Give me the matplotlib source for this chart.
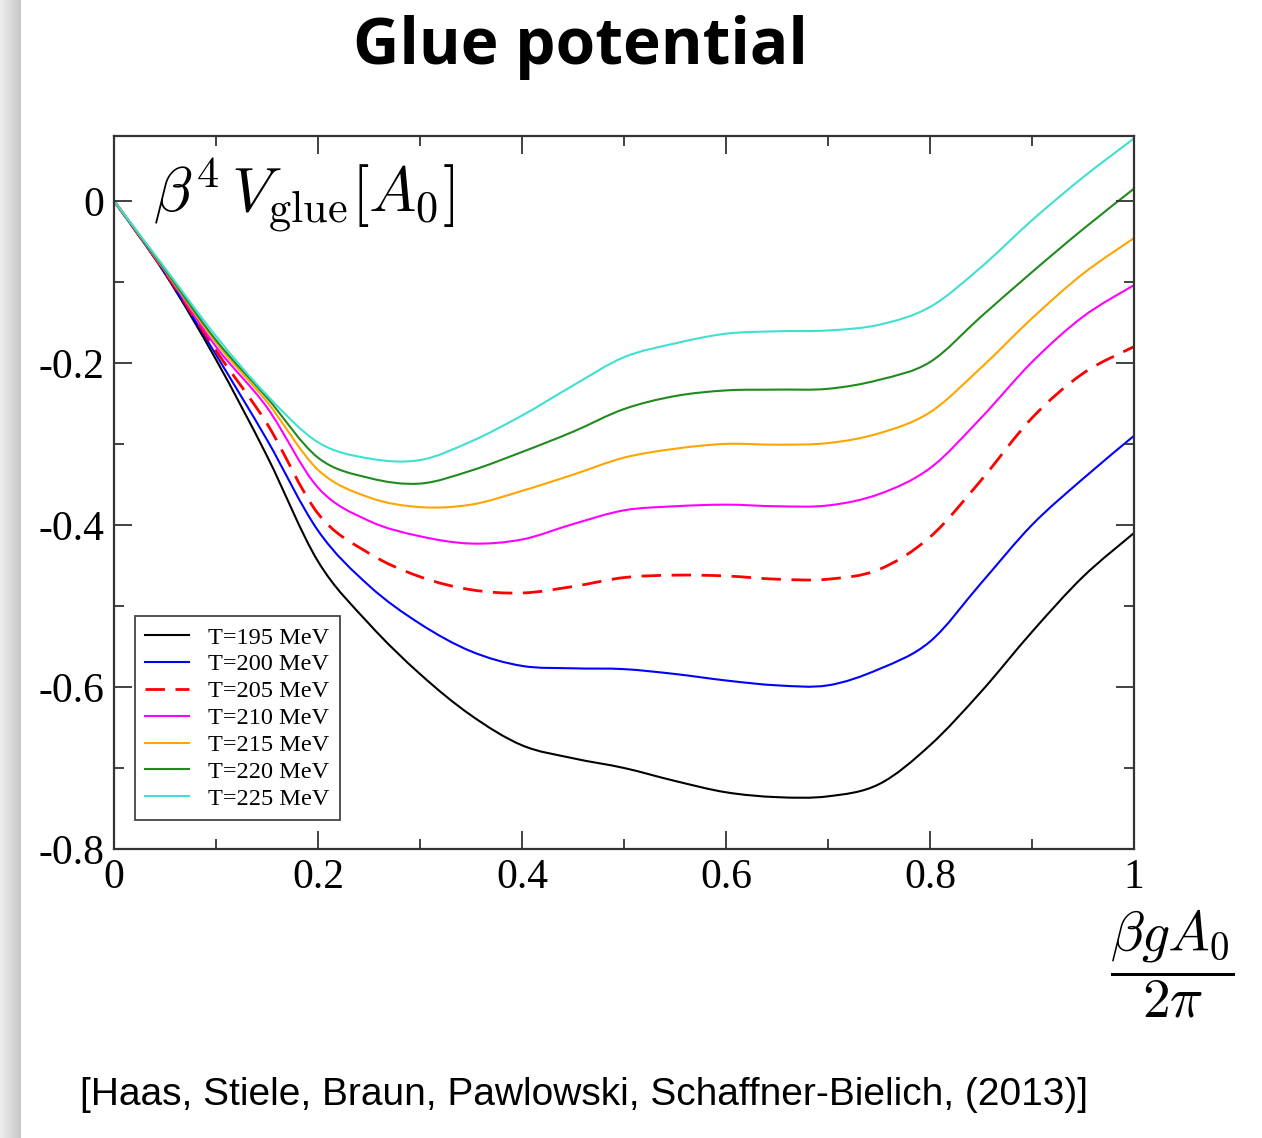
import numpy as np
import matplotlib
matplotlib.use('Agg')
import matplotlib.pyplot as plt
from matplotlib.path import Path
from matplotlib.patches import PathPatch
from matplotlib.lines import Line2D
from matplotlib.ticker import MultipleLocator, FixedLocator, FixedFormatter

plt.rcParams['mathtext.fontset'] = 'cm'

# beta*g*A0/(2 pi) grid and the glue potential beta^4 V_glue for each temperature
a0 = [0.00, 0.05, 0.10, 0.15, 0.20, 0.25, 0.30, 0.35, 0.40, 0.45, 0.50,
      0.55, 0.60, 0.65, 0.70, 0.75, 0.80, 0.85, 0.90, 0.95, 1.00]

v_195 = [0.0, -0.090, -0.196, -0.315, -0.445, -0.522, -0.584, -0.635, -0.672, -0.688, -0.700,
         -0.716, -0.730, -0.736, -0.735, -0.720, -0.672, -0.606, -0.532, -0.464, -0.410]
v_200 = [0.0, -0.089, -0.190, -0.295, -0.407, -0.475, -0.522, -0.556, -0.574, -0.577, -0.578,
         -0.584, -0.592, -0.598, -0.598, -0.578, -0.544, -0.472, -0.400, -0.343, -0.290]
v_205 = [0.0, -0.088, -0.185, -0.275, -0.386, -0.435, -0.464, -0.480, -0.484, -0.476, -0.465,
         -0.462, -0.463, -0.467, -0.467, -0.455, -0.415, -0.345, -0.268, -0.213, -0.180]
v_210 = [0.0, -0.087, -0.180, -0.255, -0.354, -0.395, -0.414, -0.423, -0.418, -0.399, -0.382,
         -0.377, -0.375, -0.377, -0.376, -0.362, -0.330, -0.268, -0.199, -0.143, -0.104]
v_215 = [0.0, -0.086, -0.175, -0.248, -0.332, -0.366, -0.378, -0.375, -0.358, -0.338, -0.317,
         -0.306, -0.300, -0.301, -0.299, -0.287, -0.261, -0.206, -0.145, -0.090, -0.046]
v_220 = [0.0, -0.085, -0.172, -0.243, -0.317, -0.342, -0.349, -0.333, -0.310, -0.285, -0.257,
         -0.241, -0.234, -0.233, -0.232, -0.221, -0.199, -0.143, -0.088, -0.035, 0.015]
v_225 = [0.0, -0.083, -0.167, -0.240, -0.298, -0.318, -0.320, -0.297, -0.265, -0.228, -0.193,
         -0.176, -0.164, -0.161, -0.160, -0.153, -0.131, -0.082, -0.024, 0.029, 0.077]

labels = ['T=195 MeV', 'T=200 MeV', 'T=205 MeV', 'T=210 MeV',
          'T=215 MeV', 'T=220 MeV', 'T=225 MeV']
series = [v_195, v_200, v_205, v_210, v_215, v_220, v_225]
colors = ['black', '#0000ff', '#ff0000', '#ff00ff', '#ffa500', '#1f8b1f', '#40e0d0']


def smooth_path(x, y):
    # cubic Bezier segments through every point (Catmull-Rom tangents)
    p = np.column_stack([x, y])
    n = len(p)
    verts = [p[0]]
    codes = [Path.MOVETO]
    for i in range(n - 1):
        p0 = p[i - 1] if i > 0 else p[i]
        p3 = p[i + 2] if i + 2 < n else p[i + 1]
        c1 = p[i] + (p[i + 1] - p0) / 6.0
        c2 = p[i + 1] - (p3 - p[i]) / 6.0
        verts += [c1, c2, p[i + 1]]
        codes += [Path.CURVE4] * 3
    return Path(verts, codes)


W, H = 1262, 1138
fig = plt.figure(figsize=(W / 100, H / 100), dpi=100)

# slide edge shadow on the left
sax = fig.add_axes([0, 0, 21 / W, 1])
grad = np.linspace(0.93, 0.78, 64)[None, :]
sax.imshow(grad, cmap='gray', vmin=0, vmax=1, aspect='auto', extent=(0, 1, 0, 1))
sax.axis('off')

ax = fig.add_axes([114 / W, 1 - 849 / H, 1020 / W, 713 / H])

handles = []
for vals, lab, col in zip(series, labels, colors):
    if lab == 'T=205 MeV':
        ls, lw = (0, (7, 3.8)), 2.0
    else:
        ls, lw = '-', 1.5
    ax.add_patch(PathPatch(smooth_path(a0, vals), fill=False, edgecolor=col,
                           lw=lw, linestyle=ls, capstyle='butt'))
    handles.append(Line2D([], [], color=col, lw=lw, linestyle=ls, label=lab))

ax.set_xlim(0, 1)
ax.set_ylim(-0.8, 0.08)

xt = [0, 0.2, 0.4, 0.6, 0.8, 1.0]
yt = [-0.8, -0.6, -0.4, -0.2, 0.0]
ax.xaxis.set_major_locator(FixedLocator(xt))
ax.xaxis.set_major_formatter(FixedFormatter(['0', '0.2', '0.4', '0.6', '0.8', '1']))
ax.yaxis.set_major_locator(FixedLocator(yt))
ax.yaxis.set_major_formatter(FixedFormatter(['-0.8', '-0.6', '-0.4', '-0.2', '0']))
ax.xaxis.set_minor_locator(MultipleLocator(0.1))
ax.yaxis.set_minor_locator(MultipleLocator(0.1))

ax.tick_params(which='both', direction='in', top=True, right=True,
               width=1.3, color='#333333')
ax.tick_params(which='major', length=13, pad=7, labelsize=30)
ax.tick_params(which='minor', length=7)
for lbl in ax.get_xticklabels() + ax.get_yticklabels():
    lbl.set_family('Liberation Serif')
for sp in ax.spines.values():
    sp.set_linewidth(1.6)
    sp.set_color('#333333')

leg = ax.legend(handles=handles, loc='lower left', bbox_to_anchor=(21 / 1020, 29 / 713),
                borderaxespad=0, fancybox=False, framealpha=1,
                prop={'family': 'Liberation Serif', 'size': 17.5},
                handlelength=1.8, handletextpad=0.8, labelspacing=0.2,
                borderpad=0.42)
leg.get_frame().set_edgecolor('#444444')
leg.get_frame().set_linewidth(1.3)

fig.text(580 / W, 1 - 48 / H, 'Glue potential', ha='center', va='center',
         fontsize=46, fontweight='bold', family='Open Sans')

fig.text(153 / W, 1 - 196 / H, r'$\beta^4\,V_{\rm glue}[A_0]$',
         ha='left', va='center', fontsize=45.5)

fig.text(1172 / W, 1 - 964 / H, r'$\dfrac{\beta g A_0}{2\pi}$',
         ha='center', va='center', fontsize=40)

fig.text(80 / W, 1 - 1095 / H,
         '[Haas, Stiele, Braun, Pawlowski, Schaffner-Bielich, (2013)]',
         ha='left', va='center', fontsize=28, family='Liberation Sans')

fig.savefig('out.png', dpi=100)
